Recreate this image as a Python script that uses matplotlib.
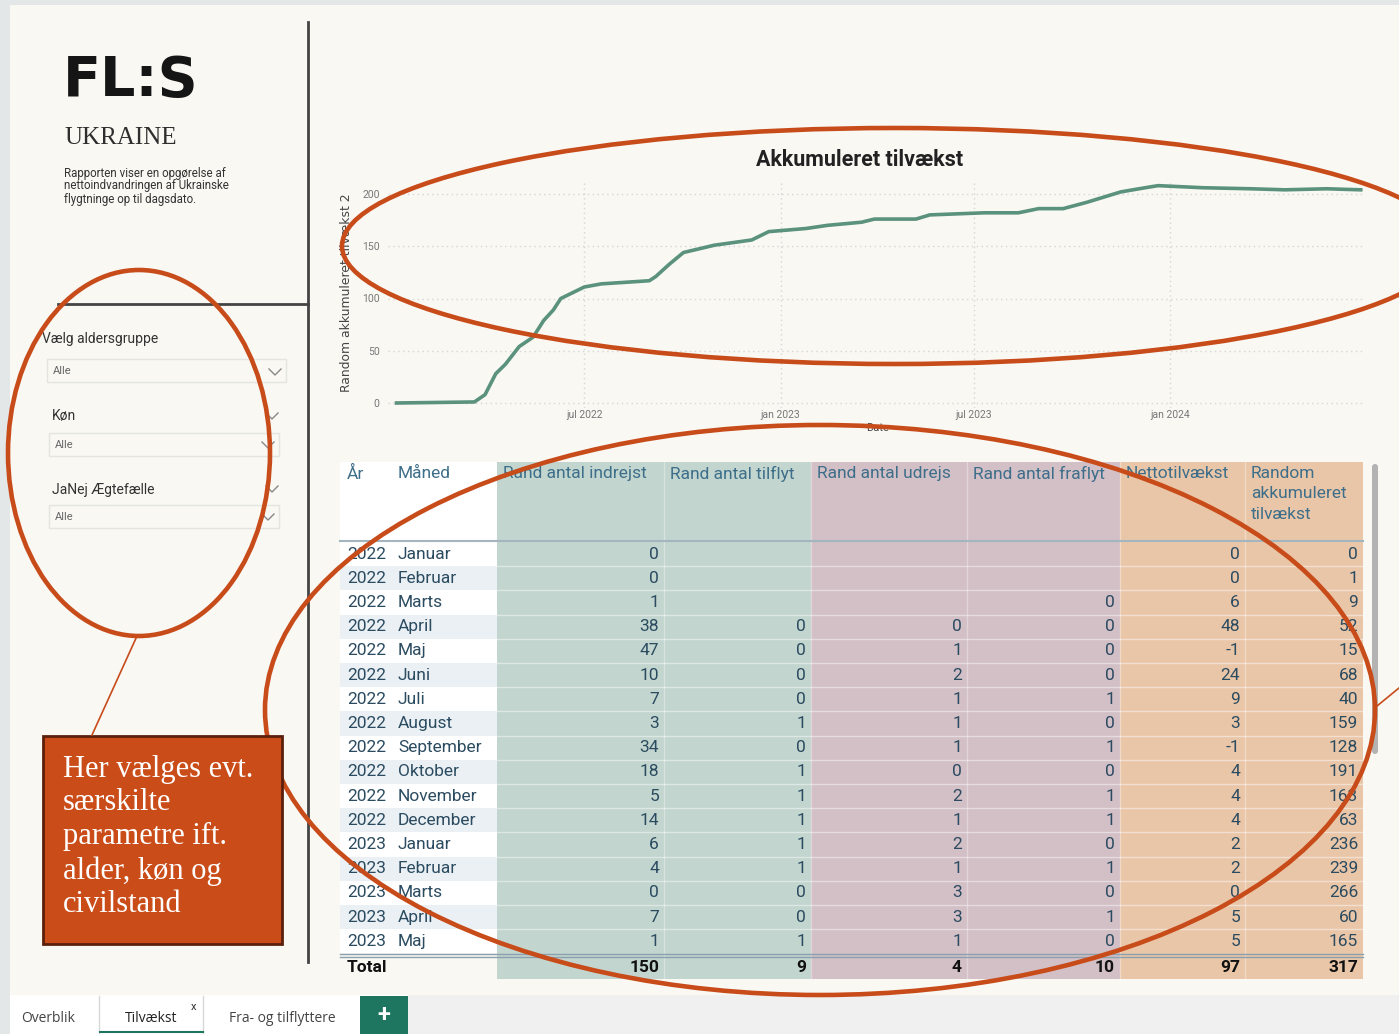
import matplotlib
matplotlib.use("Agg")
import matplotlib.pyplot as plt
import matplotlib.dates as mdates
from matplotlib.patches import Rectangle, Ellipse, FancyBboxPatch

# --- data ---
chart_dates = ["2022-01-06", "2022-03-20", "2022-03-30", "2022-04-09", "2022-04-18",
               "2022-05-01", "2022-05-14", "2022-05-24", "2022-06-02", "2022-06-09",
               "2022-07-01", "2022-07-17", "2022-08-31", "2022-09-06", "2022-09-19",
               "2022-10-02", "2022-10-31", "2022-12-05", "2022-12-21", "2023-01-25",
               "2023-02-14", "2023-03-18", "2023-03-30", "2023-05-08", "2023-05-21",
               "2023-07-11", "2023-08-12", "2023-08-31", "2023-09-23", "2023-10-15",
               "2023-11-16", "2023-12-09", "2023-12-21", "2024-02-01", "2024-03-17",
               "2024-04-18", "2024-05-27", "2024-06-28"]
chart_values = [0, 1, 8, 28, 37, 54, 63, 79, 89, 100,
                111, 114, 117, 121, 133, 144, 151, 156, 164, 167,
                170, 173, 176, 176, 180, 182, 182, 186, 186, 192,
                202, 206, 208, 206, 205, 204, 205, 204]
x_ticks = ["2022-07-01", "2023-01-01", "2023-07-01", "2024-01-01"]
x_tick_labels = ["jul 2022", "jan 2023", "jul 2023", "jan 2024"]
y_ticks = [0, 50, 100, 150, 200]

years = ["2022"] * 12 + ["2023"] * 5
months = ["Januar", "Februar", "Marts", "April", "Maj", "Juni", "Juli", "August",
          "September", "Oktober", "November", "December",
          "Januar", "Februar", "Marts", "April", "Maj"]
indrejst = [0, 0, 1, 38, 47, 10, 7, 3, 34, 18, 5, 14, 6, 4, 0, 7, 1]
tilflyt = [None, None, None, 0, 0, 0, 0, 1, 0, 1, 1, 1, 1, 1, 0, 0, 1]
udrejs = [None, None, None, 0, 1, 2, 1, 1, 1, 0, 2, 1, 2, 1, 3, 3, 1]
fraflyt = [None, None, 0, 0, 0, 0, 1, 0, 1, 0, 1, 1, 0, 1, 0, 1, 0]
netto = [0, 0, 6, 48, -1, 24, 9, 3, -1, 4, 4, 4, 2, 2, 0, 5, 5]
akkum = [0, 1, 9, 52, 15, 68, 40, 159, 128, 191, 163, 63, 236, 239, 266, 60, 165]
totals = [150, 9, 4, 10, 97, 317]
headers = ["Rand antal indrejst", "Rand antal tilflyt", "Rand antal udrejs",
           "Rand antal fraflyt", "Nettotilvækst", "Random\nakkumuleret\ntilvækst"]

W, H = 1399, 1034
CREAM = "#f9f8f3"
GRAY = "#e3e7e8"
RED = "#c84b1a"
TXT = "#2b4b60"
HDR = "#3d6e8a"
plt.rcParams["font.family"] = ["Roboto", "DejaVu Sans"]

fig = plt.figure(figsize=(W / 100, H / 100), dpi=100)
fig.patch.set_facecolor(GRAY)

ax = fig.add_axes([0, 0, 1, 1])
ax.set_xlim(0, W)
ax.set_ylim(H, 0)
ax.axis("off")

# canvas + tab bar
ax.add_patch(Rectangle((10, 5), W - 10, 990, facecolor=CREAM, edgecolor="none"))
ax.add_patch(Rectangle((10, 995), W - 10, H - 995, facecolor="#f0f0f0", edgecolor="none"))
ax.add_patch(Rectangle((10, 995), 398, H - 995, facecolor="white", edgecolor="none"))
ax.plot([99, 99], [996, H], color="#d8d8d8", lw=1)
ax.plot([203, 203], [996, H], color="#d8d8d8", lw=1)
ax.plot([100, 203], [1032, 1032], color="#1e7560", lw=1.5)
ax.add_patch(Rectangle((360, 996), 48, H - 996, facecolor="#1e7560", edgecolor="none"))
ax.text(384, 1015, "+", color="white", fontsize=17, fontweight="bold", ha="center", va="center")
tab_font = ["Open Sans", "DejaVu Sans"]
ax.text(48, 1018, "Overblik", fontsize=10, color="#444", ha="center", va="center", family=tab_font)
ax.text(151, 1018, "Tilvækst", fontsize=10, color="#222", ha="center", va="center", family=tab_font)
ax.text(194, 1007, "x", fontsize=8, color="#333", ha="center", va="center")
ax.text(282, 1018, "Fra- og tilflyttere", fontsize=10, color="#444", ha="center", va="center",
        family=tab_font)

# left panel
ax.plot([308, 308], [22, 962], color="#444444", lw=2)
ax.plot([58, 308], [304, 304], color="#444444", lw=2)
ax.text(63, 81, "FL:S", fontsize=40, fontweight="bold", color="#151515", va="center",
        family="DejaVu Sans")
ax.text(64, 138, "UKRAINE", fontsize=18, color="#2e2e2e", va="center", family="Liberation Serif")
ax.text(64, 186, "Rapporten viser en opgørelse af\nnettoindvandringen af Ukrainske\nflygtninge op til dagsdato.",
        fontsize=8.3, color="#333", va="center", linespacing=1.0)

slicers = [("Vælg aldersgruppe", 42, 339, 47, 359, 239), ("Køn", 52, 416, 49, 433, 230),
           ("JaNej Ægtefælle", 52, 490, 49, 505, 230)]
for label, lx, ly, bx, by, bw in slicers:
    ax.text(lx, ly, label, fontsize=10, color="#333", va="center")
    ax.add_patch(Rectangle((bx, by), bw, 23, facecolor=CREAM, edgecolor="#e4e4e0", lw=1))
    ax.text(bx + 6, by + 11.5, "Alle", fontsize=8, color="#666", va="center")
for cx, cy in [(275, 372), (272, 416), (268, 445), (272, 489), (268, 517)]:
    ax.plot([cx - 6, cx, cx + 6], [cy - 3, cy + 3, cy - 3], color="#888", lw=1)

# table
col_edges = [340, 392, 497, 664, 811, 967, 1120, 1245, 1363]
col_colors = ["#c2d5ce", "#c2d5ce", "#d3bfc6", "#d3bfc6", "#eac6a8", "#eac6a8"]
top, hbot, row_h = 462, 541, 24.2
n = len(years)
tot_top = hbot + 1 + n * row_h + 2
ax.add_patch(Rectangle((340, top), 157, hbot - top, facecolor="white", edgecolor="none"))
for i in range(n):
    y0 = hbot + 1 + i * row_h
    ax.add_patch(Rectangle((340, y0), 157, row_h,
                           facecolor="white" if i % 2 == 0 else "#eaf0f4", edgecolor="none"))
for j, c in enumerate(col_colors):
    ax.add_patch(Rectangle((col_edges[j + 2], top), col_edges[j + 3] - col_edges[j + 2],
                           tot_top + 24 - top, facecolor=c, edgecolor="none"))
for i in range(1, n):
    y0 = hbot + 1 + i * row_h
    ax.plot([497, 1363], [y0, y0], color="white", lw=1, alpha=0.45)
for xe in col_edges[3:-1]:
    ax.plot([xe, xe], [top, tot_top + 24], color="white", lw=1, alpha=0.35)
ax.plot([340, 1363], [hbot, hbot], color="#a3b5bf", lw=1.5)
ax.plot([340, 1363], [tot_top - 1, tot_top - 1], color="#8aa0ad", lw=1)
ax.plot([340, 1363], [tot_top + 1.5, tot_top + 1.5], color="#8aa0ad", lw=1)

tfs = 12.5
ax.text(347, 474, "År", fontsize=tfs, color=HDR, va="center")
ax.text(398, 474, "Måned", fontsize=tfs, color=HDR, va="center")
for j, h in enumerate(headers):
    ax.text(col_edges[j + 2] + 6, 466, h, fontsize=tfs, color=HDR, va="top", linespacing=1.45)

cols = [indrejst, tilflyt, udrejs, fraflyt, netto, akkum]
for i in range(n):
    yc = hbot + 1 + (i + 0.5) * row_h
    ax.text(347, yc, years[i], fontsize=tfs, color=TXT, va="center")
    ax.text(398, yc, months[i], fontsize=tfs, color=TXT, va="center")
    for j, col in enumerate(cols):
        if col[i] is not None:
            ax.text(col_edges[j + 3] - 5, yc, str(col[i]), fontsize=tfs, color=TXT,
                    va="center", ha="right")
ty = tot_top + 12
ax.text(347, ty, "Total", fontsize=tfs, color="#111", va="center", fontweight="bold")
for j, t in enumerate(totals):
    ax.text(col_edges[j + 3] - 5, ty, str(t), fontsize=tfs, color="#111", va="center",
            ha="right", fontweight="bold")
ax.add_patch(FancyBboxPatch((1372, 464), 6, 290, boxstyle="round,pad=0,rounding_size=3",
                            facecolor="#b3b3b3", edgecolor="none"))

# line chart
ax.text(860, 160, "Akkumuleret tilvækst", fontsize=15.5, fontweight="bold", color="#222",
        ha="center", va="center")
ax.text(347, 293, "Random akkumuleret tilvækst 2", fontsize=8.9, color="#444", rotation=90,
        ha="center", va="center", family="DejaVu Sans")
ax.text(878, 428, "Date", fontsize=8, color="#444", ha="center", va="center")

y_lo, y_hi = -5, 212
px_per_unit = 1.045
ax_bot = 403 + (0 - y_lo) * px_per_unit
ax_top = 403 - y_hi * px_per_unit
cax = fig.add_axes([388 / W, 1 - ax_bot / H, (1365 - 388) / W, (ax_bot - ax_top) / H])
cax.patch.set_alpha(0)
d = mdates.datestr2num(chart_dates)
cax.plot(d, chart_values, color="#5b927d", lw=2.6, solid_joinstyle="round")
cax.set_xlim(mdates.datestr2num("2021-12-29"), mdates.datestr2num("2024-07-02"))
cax.set_ylim(y_lo, y_hi)
cax.set_yticks(y_ticks)
cax.set_xticks(mdates.datestr2num(x_ticks))
cax.set_xticklabels(x_tick_labels)
for s in cax.spines.values():
    s.set_visible(False)
cax.tick_params(length=0, labelsize=7.5, labelcolor="#777", pad=6)
cax.tick_params(axis="x", pad=1)
cax.grid(True, color="#d6d6d6", linestyle=(0, (1, 2.5)), lw=1)
cax.set_axisbelow(True)

# annotation overlay
top_ax = fig.add_axes([0, 0, 1, 1], zorder=5)
top_ax.set_xlim(0, W)
top_ax.set_ylim(H, 0)
top_ax.axis("off")
top_ax.patch.set_alpha(0)
for cx, cy, ew, eh in [(139, 453, 262, 366), (895, 246, 1106, 236), (820, 710, 1110, 570)]:
    top_ax.add_patch(Ellipse((cx, cy), ew, eh, facecolor="none", edgecolor=RED, lw=3.3))
top_ax.plot([137, 92], [636, 735], color=RED, lw=1.2)
top_ax.plot([1377, 1399], [706, 688], color=RED, lw=1.2)
top_ax.add_patch(Rectangle((43, 736), 239, 208, facecolor="#c94c19", edgecolor="#5b200b", lw=2))
top_ax.text(63, 837, "Her vælges evt.\nsærskilte\nparametre ift.\nalder, køn og\ncivilstand",
            fontsize=22, color="white", va="center", family="Liberation Serif", linespacing=1.22)

fig.savefig("out.png", dpi=100, facecolor=fig.get_facecolor())
